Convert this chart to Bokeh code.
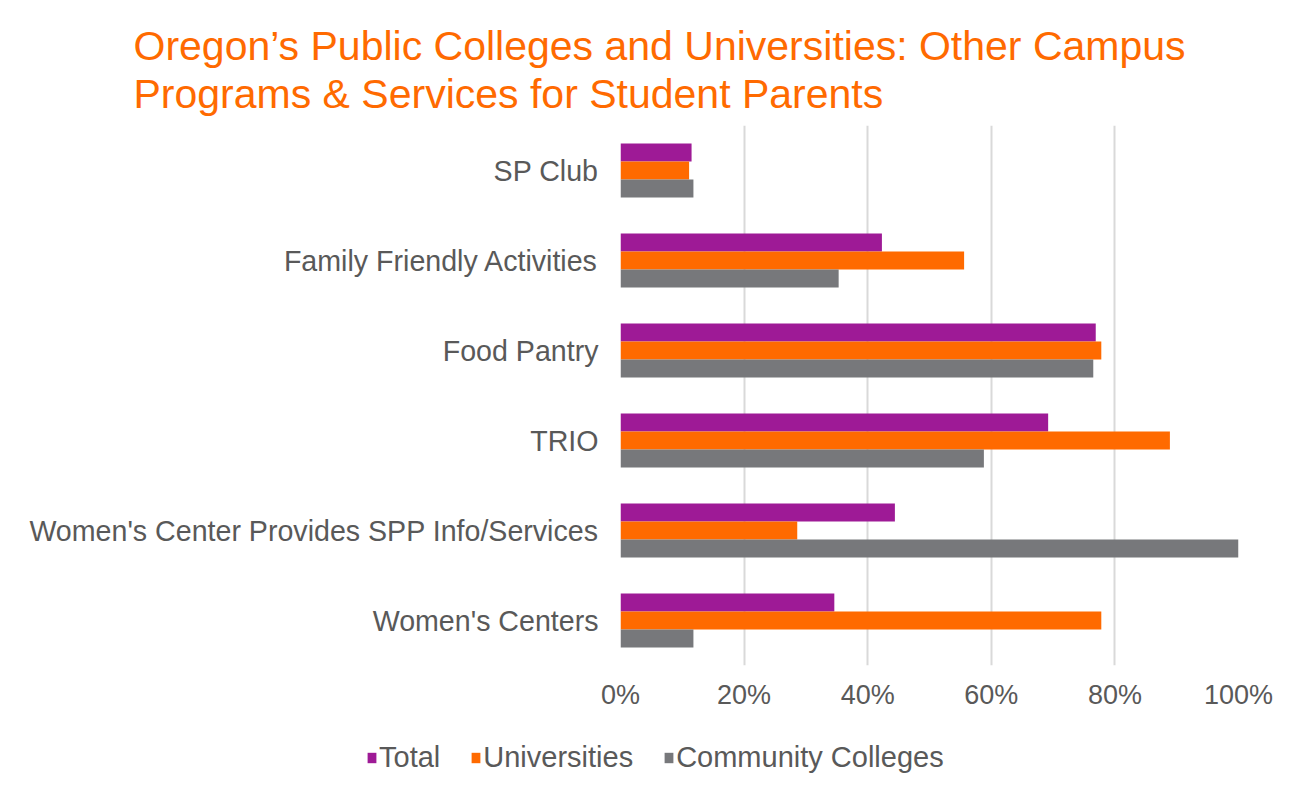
from bokeh.plotting import figure
from bokeh.models import (ColumnDataSource, FactorRange, Range1d, Legend, LegendItem,
                          NumeralTickFormatter, FixedTicker, Title)
from bokeh.transform import dodge
from bokeh.embed import file_html
from bokeh.resources import INLINE

categories = ["SP Club", "Family Friendly Activities", "Food Pantry", "TRIO",
              "Women's Center Provides SPP Info/Services", "Women's Centers"]
total = [0.115, 0.423, 0.769, 0.692, 0.444, 0.346]
universities = [0.111, 0.556, 0.778, 0.889, 0.286, 0.778]
community_colleges = [0.118, 0.353, 0.765, 0.588, 1.0, 0.118]
series_names = ["Total", "Universities", "Community Colleges"]
x_ticks = [0, 0.2, 0.4, 0.6, 0.8, 1.0]
title_lines = ["Oregon\u2019s Public Colleges and Universities: Other Campus",
               "Programs & Services for Student Parents"]

PURPLE = "#9E1A96"
ORANGE = "#FF6A00"
GRAY = "#77787B"
TXT = "#595959"
FONT = "Liberation Sans"

src = ColumnDataSource(dict(cat=categories, total=total, uni=universities, cc=community_colleges))

p = figure(frame_width=618, frame_height=540, output_backend="svg", toolbar_location=None,
           y_range=FactorRange(factors=list(reversed(categories)), range_padding=0),
           x_range=Range1d(0, 1.0))
p.min_border_left = 620
p.min_border_right = 61
p.min_border_top = 125
p.min_border_bottom = 123

h = 0.2
renderers = []
for col, off, c in (("total", 0.2, PURPLE), ("uni", 0.0, ORANGE), ("cc", -0.2, GRAY)):
    renderers.append(p.hbar(y=dodge("cat", off, range=p.y_range), right=col, left=0, height=h,
                            source=src, fill_color=c, line_color=None))

p.outline_line_color = None
p.ygrid.grid_line_color = None
p.xgrid.grid_line_color = "#D9D9D9"
p.xgrid.grid_line_width = 2
p.xaxis.ticker = FixedTicker(ticks=x_ticks)
p.xaxis.formatter = NumeralTickFormatter(format="0%")
for ax in (p.xaxis, p.yaxis):
    ax.axis_line_color = None
    ax.major_tick_line_color = None
    ax.minor_tick_line_color = None
    ax.major_label_text_color = TXT
    ax.major_label_text_font = FONT
p.xaxis.major_label_text_font_size = "27px"
p.yaxis.major_label_text_font_size = "28.6px"
p.xaxis.major_label_standoff = 8
p.yaxis.major_label_standoff = 16

# Titles: later-added titles sit further from the frame
for line, so in ((title_lines[1], 18), (title_lines[0], -18)):
    t = Title(text=line, align="left", offset=-487, text_color=ORANGE, text_font=FONT,
              text_font_size="41px", text_font_style="normal", standoff=so)
    p.add_layout(t, "above")

# Legend in the right side panel (vertical extent = frame), shifted below-left of the frame
items = [LegendItem(label=n, renderers=[r]) for n, r in zip(series_names, renderers)]
legend = Legend(items=items, orientation="horizontal", location=(-872, -109),
                label_text_font=FONT, label_text_font_size="29px", label_text_color=TXT,
                glyph_width=11, glyph_height=13, label_standoff=2, spacing=30,
                border_line_color=None, background_fill_alpha=0, padding=0, margin=0)
p.add_layout(legend, "right")

open("out.html", "w").write(file_html(p, INLINE))
